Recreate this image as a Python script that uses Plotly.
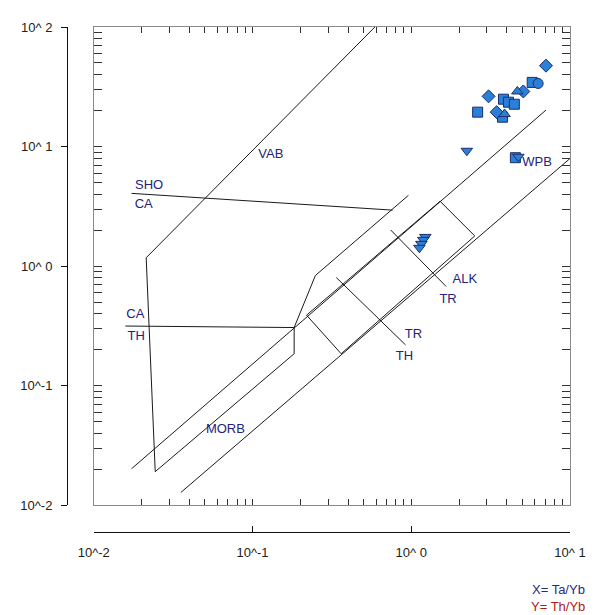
import plotly.graph_objects as go

# ---------------- data (Ta/Yb , Th/Yb) ----------------
# field boundaries
mantle_upper_x = [0.0173, 7.06]
mantle_upper_y = [0.0202, 20.2]
mantle_lower_x = [0.0354, 9.97]
mantle_lower_y = [0.0128, 7.92]
acm_lower_x = [0.0244, 0.183, 0.183]
acm_lower_y = [0.0191, 0.185, 0.3065]
acm_upper_x = [0.183, 0.249, 0.960]
acm_upper_y = [0.3065, 0.835, 3.91]
vab_x = [0.0244, 0.0214, 0.590]
vab_y = [0.0191, 1.176, 100.0]
sho_ca_x = [0.0173, 0.763]
sho_ca_y = [4.06, 2.94]
ca_th_x = [0.0158, 0.183]
ca_th_y = [0.3155, 0.3065]
box_x = [0.219, 1.52, 2.513, 0.362, 0.219]
box_y = [0.389, 3.486, 1.789, 0.185, 0.389]
div1_x = [0.337, 0.920]
div1_y = [0.803, 0.2196]
div2_x = [0.742, 1.658]
div2_y = [2.006, 0.676]

# field labels
label_text = ["VAB", "SHO", "CA", "CA", "TH", "MORB", "WPB", "ALK", "TR", "TR", "TH"]
label_x = [0.1306, 0.02233, 0.02064, 0.01828, 0.01853, 0.0675, 6.21, 2.177, 1.706, 1.032, 0.907]
label_y = [8.55, 4.73, 3.232, 0.389, 0.2558, 0.0426, 7.336, 0.773, 0.528, 0.2657, 0.1747]

# samples
diamond_x = [7.06, 5.08, 3.07, 3.45]
diamond_y = [47.5, 28.9, 26.3, 19.4]
square_x = [5.78, 3.81, 4.10, 4.46, 2.62, 3.76, 4.53]
square_y = [34.4, 24.9, 23.5, 22.6, 19.4, 17.6, 8.07]
circle_x = [6.30]
circle_y = [33.7]
triup_x = [4.66, 3.87]
triup_y = [28.9, 18.7]
tridown_x = [2.24, 4.73, 1.226, 1.191, 1.158, 1.125]
tridown_y = [9.22, 8.22, 1.755, 1.657, 1.536, 1.423]

# axis ticks
tick_vals_x = [0.01, 0.1, 1, 10]
tick_text_x = ["10^-2", "10^-1", "10^ 0", "10^ 1"]
tick_vals_y = [0.01, 0.1, 1, 10, 100]
tick_text_y = ["10^-2", "10^-1", "10^ 0", "10^ 1", "10^ 2"]

# ---------------- figure ----------------
fig = go.Figure()
LINE = dict(color="#1a1a1a", width=1)
for xs, ys in [(mantle_upper_x, mantle_upper_y), (mantle_lower_x, mantle_lower_y),
               (acm_lower_x, acm_lower_y), (acm_upper_x, acm_upper_y),
               (vab_x, vab_y), (sho_ca_x, sho_ca_y), (ca_th_x, ca_th_y),
               (box_x, box_y), (div1_x, div1_y), (div2_x, div2_y)]:
    fig.add_trace(go.Scatter(x=xs, y=ys, mode="lines", line=LINE,
                             hoverinfo="skip", showlegend=False))

fig.add_trace(go.Scatter(x=label_x, y=label_y, mode="text", text=label_text,
                         textfont=dict(family="Liberation Sans, Arial", size=13, color="#23237a"),
                         hoverinfo="skip", showlegend=False))

MK = dict(color="#2a7fd8", size=10, line=dict(color="#1b2f6b", width=1))
for xs, ys, sym in [(square_x, square_y, "square"), (diamond_x, diamond_y, "diamond"),
                    (circle_x, circle_y, "circle"), (triup_x, triup_y, "triangle-up"),
                    (tridown_x, tridown_y, "triangle-down")]:
    fig.add_trace(go.Scatter(x=xs, y=ys, mode="markers",
                             marker=dict(symbol=sym, **MK), showlegend=False))

# dummy trace to activate outer labelled axes
fig.add_trace(go.Scatter(x=[None], y=[None], xaxis="x2", yaxis="y2",
                         mode="markers", showlegend=False, hoverinfo="skip"))

# page body adds an 8px offset; figure coordinates are page coordinates - 8
OFF = 8
W, H = 598 - OFF, 615 - OFF
L, T = 63 - OFF, 22 - OFF
R = W - (571 - OFF)
B = H - (532 - OFF)
pw = W - L - R
ph = H - T - B
xdom0 = (90 - 63) / pw
ydom0 = (532 - 505) / ph

TF = dict(family="Liberation Sans, Arial", size=13, color="#222222")
frame_common = dict(type="log", showgrid=False, zeroline=False, showline=True,
                    linecolor="#8a8a8a", linewidth=1, mirror="allticks",
                    ticks="inside", dtick="D1", tickcolor="#333333",
                    showticklabels=False)
fig.update_layout(
    width=W, height=H,
    margin=dict(l=L, r=R, t=T, b=B, pad=0),
    paper_bgcolor="white", plot_bgcolor="white",
    showlegend=False,
    xaxis=dict(domain=[xdom0, 1], range=[-2, 1], anchor="y", ticklen=6, **frame_common),
    yaxis=dict(domain=[ydom0, 1], range=[-2, 2], anchor="x", ticklen=8, **frame_common),
    xaxis2=dict(type="log", range=[-2, 1], overlaying="x", anchor="free", position=0,
                side="bottom", showgrid=False, zeroline=False, showline=True,
                linecolor="#111111", linewidth=1, ticks="inside", ticklen=6,
                tickcolor="#111111", tickvals=tick_vals_x, ticktext=tick_text_x,
                tickfont=TF, ticklabelstandoff=8),
    yaxis2=dict(type="log", range=[-2, 2], overlaying="y", anchor="free", position=0,
                side="left", showgrid=False, zeroline=False, showline=True,
                linecolor="#111111", linewidth=1, ticks="outside", ticklen=6,
                tickcolor="#111111", tickvals=tick_vals_y, ticktext=tick_text_y,
                tickfont=TF, ticklabelstandoff=6),
    annotations=[
        dict(text="X= Ta/Yb", xref="paper", yref="paper",
             x=(588 - 63) / pw, y=(532 - 590) / ph, xanchor="right", yanchor="middle",
             showarrow=False, font=dict(family="Liberation Sans, Arial", size=13, color="#2a2a80")),
        dict(text="Y= Th/Yb", xref="paper", yref="paper",
             x=(588 - 63) / pw, y=(532 - 607) / ph, xanchor="right", yanchor="middle",
             showarrow=False, font=dict(family="Liberation Sans, Arial", size=13, color="#b01818")),
    ],
)

fig.write_html("out.html")
